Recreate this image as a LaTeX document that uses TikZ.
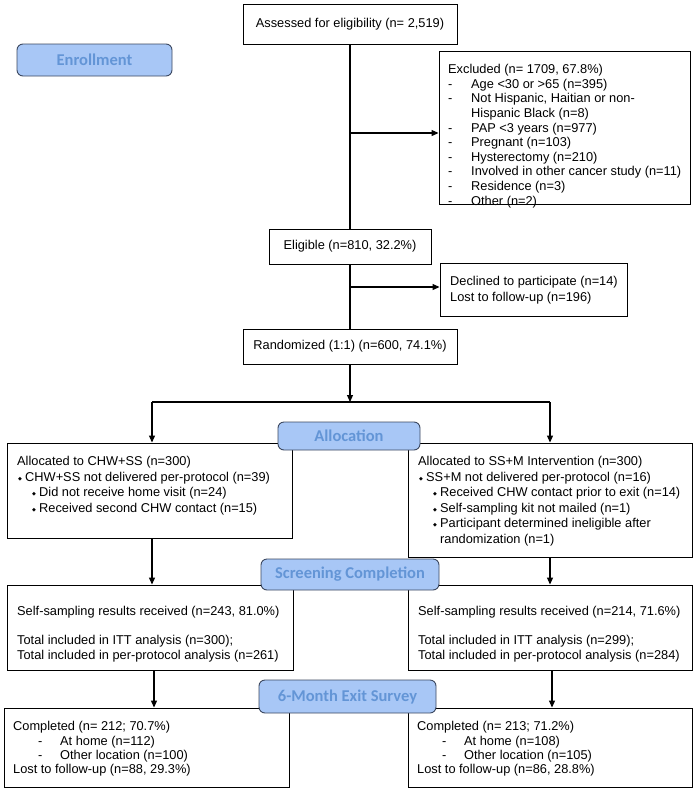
\documentclass[tikz,border=0pt]{standalone}
\usepackage{fontspec}
\setmainfont{Liberation Sans}
\newfontfamily\labfont{Carlito}
\newfontfamily\djv{DejaVu Sans}
\usetikzlibrary{arrows.meta}
\definecolor{labfill}{RGB}{168,199,246}
\definecolor{labtext}{RGB}{99,149,214}
\definecolor{labdraw}{RGB}{60,72,96}
\newcommand\dmd{\raisebox{1pt}{\djv\fontsize{5}{5}\selectfont ◆}}
\newcommand\dsh[1]{\makebox[#1][l]{-}}
\begin{document}
\begin{tikzpicture}[x=1pt,y=-1pt,
  box/.style={draw, line width=0.9pt, inner sep=0pt},
  lab/.style={draw=labdraw, fill=labfill, rounded corners=6pt, line width=0.9pt, text=labtext, font=\labfont\bfseries\fontsize{16.5}{18}\selectfont, inner sep=0pt},
  txt/.style={anchor=north west, inner sep=0pt, align=left},
  con/.style={line width=1.1pt},
  arr/.style={con, -{Triangle[length=7pt,width=6pt]}}]
\useasboundingbox (0,0) rectangle (694,793);
\fill[white] (0,0) rectangle (694,793);

% main boxes
\node[box, minimum width=214pt, minimum height=40pt, font=\fontsize{12.8}{14.6}\selectfont] (assess) at (350,24) {Assessed for eligibility (n= 2,519)};
\node[box, minimum width=251pt, minimum height=153pt] (excl) at (564.5,127.5) {};
\node[box, minimum width=162pt, minimum height=35pt, font=\fontsize{12.8}{14.6}\selectfont] (elig) at (350,246.5) {Eligible (n=810, 32.2\%)};
\node[box, minimum width=187pt, minimum height=53pt] (decl) at (533.5,289.5) {};
\node[box, minimum width=214pt, minimum height=35pt, font=\fontsize{12.8}{14.6}\selectfont] (rand) at (350,346.5) {Randomized (1:1) (n=600, 74.1\%)};
\node[box, minimum width=285pt, minimum height=95pt] (aL) at (149.5,490.5) {};
\node[box, minimum width=284pt, minimum height=114pt] (aR) at (550,500) {};
\node[box, minimum width=286pt, minimum height=85pt] (sL) at (150,627.5) {};
\node[box, minimum width=284pt, minimum height=85pt] (sR) at (550,627.5) {};
\node[box, minimum width=285pt, minimum height=79pt] (eL) at (146.5,747.5) {};
\node[box, minimum width=284pt, minimum height=79pt] (eR) at (550,747.5) {};

% texts
\node[txt, font=\fontsize{12.8}{14.6}\selectfont] (excl-t) at (448,64.2) {Excluded (n= 1709, 67.8\%)\\
\dsh{23pt}Age <30 or >65 (n=395)\\
\dsh{23pt}Not Hispanic, Haitian or non-\\
\hspace*{23pt}Hispanic Black (n=8)\\
\dsh{23pt}PAP <3 years (n=977)\\
\dsh{23pt}Pregnant (n=103)\\
\dsh{23pt}Hysterectomy (n=210)\\
\dsh{23pt}Involved in other cancer study (n=11)\\
\dsh{23pt}Residence (n=3)\\
\dsh{23pt}Other (n=2)};
\node[txt, font=\fontsize{12.8}{15.5}\selectfont] (decl-t) at (450,276.2) {Declined to participate (n=14)\\Lost to follow-up (n=196)};
\node[txt, font=\fontsize{12.8}{15.5}\selectfont] (aL-t) at (17,456.2) {Allocated to CHW+SS (n=300)\\
\hspace*{1pt}\makebox[7pt][l]{\dmd}CHW+SS not delivered per-protocol (n=39)\\
\hspace*{15pt}\makebox[7pt][l]{\dmd}Did not receive home visit (n=24)\\
\hspace*{15pt}\makebox[7pt][l]{\dmd}Received second CHW contact (n=15)};
\node[txt, font=\fontsize{12.8}{15.5}\selectfont] (aR-t) at (418,456.2) {Allocated to SS+M Intervention (n=300)\\
\hspace*{1pt}\makebox[7pt][l]{\dmd}SS+M not delivered per-protocol (n=16)\\
\hspace*{15pt}\makebox[7pt][l]{\dmd}Received CHW contact prior to exit (n=14)\\
\hspace*{15pt}\makebox[7pt][l]{\dmd}Self-sampling kit not mailed (n=1)\\
\hspace*{15pt}\makebox[7pt][l]{\dmd}Participant determined ineligible after\\
\hspace*{22pt}randomization (n=1)};
\node[txt, font=\fontsize{12.8}{14.5}\selectfont] (sL-t) at (17,606.2) {Self-sampling results received (n=243, 81.0\%)\\[14.5pt]
Total included in ITT analysis (n=300);\\
Total included in per-protocol analysis (n=261)};
\node[txt, font=\fontsize{12.8}{14.5}\selectfont] (sR-t) at (418,606.2) {Self-sampling results received (n=214, 71.6\%)\\[14.5pt]
Total included in ITT analysis (n=299);\\
Total included in per-protocol analysis (n=284)};
\node[txt, font=\fontsize{12.8}{14.4}\selectfont] (eL-t) at (13,721.2) {Completed (n= 212; 70.7\%)\\
\hspace*{25pt}\dsh{22pt}At home (n=112)\\
\hspace*{25pt}\dsh{22pt}Other location (n=100)\\
Lost to follow-up (n=88, 29.3\%)};
\node[txt, font=\fontsize{12.8}{14.4}\selectfont] (eR-t) at (417,721.2) {Completed (n= 213; 71.2\%)\\
\hspace*{25pt}\dsh{22pt}At home (n=108)\\
\hspace*{25pt}\dsh{22pt}Other location (n=105)\\
Lost to follow-up (n=86, 28.8\%)};

% connectors
\coordinate (j1) at (350,133);
\coordinate (j2) at (350,287);
\coordinate (hL) at (152,402);
\coordinate (hR) at (550,402);
\coordinate (hM) at (350,402);
\coordinate (cL) at (152,0);
\coordinate (cR) at (550,0);
\coordinate (dL) at (154,0);
\coordinate (dR) at (552,0);
\draw[con] (assess.south) -- (elig.north);
\draw[arr] (j1) -- (j1 -| excl.west);
\draw[con] (elig.south) -- (rand.north);
\draw[arr] (j2) -- (j2 -| decl.west);
\draw[arr] (rand.south) -- (hM);
\draw[con] (hL) -- (hR);
\draw[arr] (hL) -- (hL |- aL.north);
\draw[arr] (hR) -- (hR |- aR.north);
\draw[arr] (aL.south -| cL) -- (sL.north -| cL);
\draw[arr] (aR.south -| cR) -- (sR.north -| cR);
\draw[arr] (sL.south -| dL) -- (eL.north -| dL);
\draw[arr] (sR.south -| dR) -- (eR.north -| dR);

% phase labels
\node[lab, minimum width=155pt, minimum height=32pt] (enroll) at (94.5,60) {Enrollment};
\node[lab, minimum width=142pt, minimum height=28pt] (alloc) at (349,436) {Allocation};
\node[lab, minimum width=178pt, minimum height=31pt] (scr) at (350,574.5) {Screening Completion};
\node[lab, minimum width=177pt, minimum height=33pt] (exit) at (347.5,696.5) {6-Month Exit Survey};
\end{tikzpicture}
\end{document}
